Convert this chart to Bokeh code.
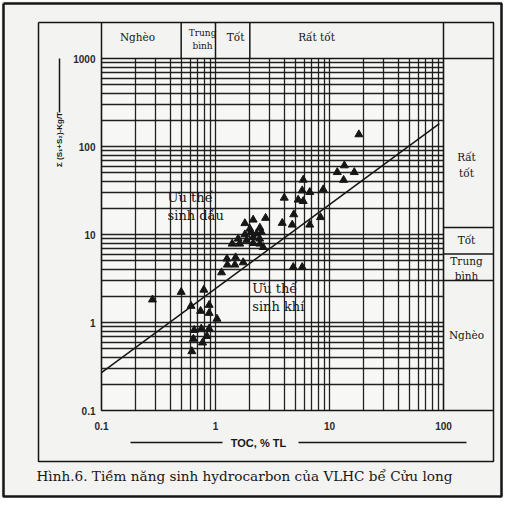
import math
from bokeh.plotting import figure
from bokeh.models import FixedTicker, CustomJSTickFormatter
from bokeh.core.properties import value
from bokeh.embed import file_html
from bokeh.resources import INLINE

# ---------------- data ----------------
toc = [0.28, 0.50, 0.79, 0.61, 0.74, 0.88, 0.88, 1.03, 0.65, 0.75, 0.88, 0.64, 0.84, 0.77, 0.62,
       1.13, 1.27, 1.48, 1.75, 1.50, 1.26, 1.40, 1.63, 1.87, 2.14, 2.45, 2.62, 1.58, 1.81, 2.04,
       2.29, 2.53, 2.14, 1.81, 2.14, 2.75, 2.00, 2.45, 2.44,
       3.85, 4.71, 4.86, 6.71, 8.34, 4.01, 5.31, 5.88, 5.76, 6.71, 5.88, 8.81, 4.81, 5.76,
       13.5, 11.7, 16.5, 13.3, 18.1]
s1s2 = [1.82, 2.22, 2.35, 1.54, 1.35, 1.58, 1.28, 1.10, 0.82, 0.85, 0.85, 0.65, 0.70, 0.59, 0.47,
        3.70, 4.53, 4.53, 4.81, 5.48, 5.30, 7.84, 7.84, 8.55, 7.96, 7.84, 7.17, 8.94, 10.0, 10.6,
        10.2, 10.6, 9.31, 13.4, 14.7, 15.4, 11.6, 11.9, 8.94,
        13.5, 12.9, 16.9, 12.9, 15.7, 26.1, 24.8, 23.9, 31.6, 30.3, 41.8, 32.5, 4.25, 4.25,
        60.8, 51.0, 51.0, 41.6, 137]
line_toc = [0.1, 92]
line_s = [0.27, 182]

x_ticks = [0.1, 1, 10, 100]
x_ticklabels = ["0.1", "1", "10", "100"]
y_ticks = [0.1, 1, 10, 100, 1000]
y_ticklabels = ["0.1", "1", "10", "100", "1000"]

toc_bounds = [0.1, 0.5, 1, 2, 100]
toc_classes = ["Nghèo", "Trung\nbình", "Tốt", "Rất tốt"]
toc_class_x = [0.207, 0.77, 1.50, 7.7]
s_bounds = [1000, 12, 6, 3, 0.1]
s_classes = ["Rất\ntốt", "Tốt", "Trung\nbình", "Nghèo"]
s_class_y = [62, 8.6, 4.1, 0.73]

zone_labels = ["Ưu thế\nsinh dầu", "Ưu thế\nsinh khí"]
zone_x = [0.38, 2.1]
zone_y = [21, 1.9]

x_title = "TOC, % TL"
y_title = "Σ (S₁+S₂)-Kg/T"
caption = "Hình.6. Tiềm năng sinh hydrocarbon của VLHC bể Cửu long"

# ---------------- layout ----------------
W, H = 503, 498
FL, FT = 101, 58
XDEC, YDEC = 114, 88
FW, FH = 3 * XDEC, 4 * YDEC

def cx(px):
    return 10 ** (-1 + (px - FL) / XDEC)

def cy(py):
    return 10 ** (3 - (py - FT) / YDEC)

INK = "#161616"
SERIF = value("DejaVu Serif")
SANS = value("Liberation Sans")

p = figure(width=W, height=H, x_axis_type="log", y_axis_type="log",
           x_range=(0.1, 100), y_range=(0.1, 1000),
           output_backend="svg", toolbar_location=None,
           min_border_left=FL, min_border_right=W - FL - FW,
           min_border_top=FT, min_border_bottom=H - FT - FH)
p.background_fill_color = "#f7f7f5"
p.border_fill_color = "#f3f3f1"
p.outline_line_color = INK
p.outline_line_width = 1.6

grid_x = [k * 10 ** e for e in (-1, 0, 1) for k in range(1, 10)] + [100]
grid_y = [k * 10 ** e for e in (-1, 0, 1, 2) for k in range(1, 10)] + [1000]
p.xgrid.ticker = FixedTicker(ticks=grid_x)
p.ygrid.ticker = FixedTicker(ticks=grid_y)
for g in (p.xgrid, p.ygrid):
    g.grid_line_color = INK
    g.grid_line_width = 1.3
    g.grid_line_alpha = 0.95

fmt_code = """
for (let i = 0; i < vals.length; i++) {
  if (Math.abs(Math.log10(tick) - Math.log10(vals[i])) < 1e-6) return labs[i];
}
return '';
"""
p.xaxis.ticker = FixedTicker(ticks=x_ticks)
p.xaxis.formatter = CustomJSTickFormatter(args=dict(vals=x_ticks, labs=x_ticklabels), code=fmt_code)
p.yaxis.ticker = FixedTicker(ticks=y_ticks)
p.yaxis.formatter = CustomJSTickFormatter(args=dict(vals=y_ticks, labs=y_ticklabels), code=fmt_code)
for ax in (p.xaxis, p.yaxis):
    ax.axis_line_color = None
    ax.major_tick_line_color = None
    ax.minor_tick_line_color = None
    ax.major_tick_in = 0
    ax.major_tick_out = 0
    ax.major_label_text_font = "Liberation Sans"
    ax.major_label_text_font_size = "10px"
    ax.major_label_text_font_style = "bold"
    ax.major_label_text_color = "#2a2a2a"
p.xaxis.major_label_standoff = 11
p.yaxis.major_label_standoff = 6

# ---------------- data marks ----------------
p.line(line_toc, line_s, line_color=INK, line_width=1.5)
p.scatter(toc, s1s2, marker="triangle", size=8, fill_color=INK, line_color=INK)

p.text(zone_x, zone_y, text=zone_labels, text_font=SERIF, text_font_size="13px",
       text_color=INK, text_align="left", text_baseline="middle", text_line_height=1.2)

# ---------------- frame decorations (outside the plot area) ----------------
def rect(l, t, r, b):
    return [cx(l), cx(r), cx(r), cx(l), cx(l)], [cy(t), cy(t), cy(b), cy(b), cy(t)]

xs, ys = [], []
a, c = rect(38, 22, 493, 461)
xs.append(a); ys.append(c)
for bnd in toc_bounds:
    xs.append([bnd, bnd]); ys.append([1000, cy(22)])
for bnd in s_bounds:
    xs.append([100, cx(493)]); ys.append([bnd, bnd])
# axis title rules
xs.append([cx(130), cx(222)]); ys.append([cy(442), cy(442)])
xs.append([cx(298), cx(466)]); ys.append([cy(442), cy(442)])
xs.append([cx(59), cx(59)]); ys.append([cy(112), cy(58)])
p.multi_line(xs, ys, line_color=INK, line_width=1.5, level="overlay")
ob, oc = rect(3, 3, 501, 496)
p.line(ob, oc, line_color=INK, line_width=2.5, level="overlay")
p.scatter([cx(469), cx(59)], [cy(442), cy(55)], marker="triangle", size=7,
          angle=[-math.pi / 2, 0], fill_color=INK, line_color=INK, level="overlay")

# header class labels
p.text([toc_class_x[0], toc_class_x[2], toc_class_x[3]], [cy(36)] * 3,
       text=[toc_classes[0], toc_classes[2], toc_classes[3]],
       text_font=SERIF, text_font_size="10.5px", text_color=INK, text_align="center",
       text_baseline="middle", level="overlay")
p.text([toc_class_x[1]], [cy(39)], text=[toc_classes[1]], text_font=SERIF, text_font_size="9px",
       text_color=INK, text_align="center", text_baseline="middle", text_line_height=1.25,
       level="overlay")
p.text([cx(466)] * 4, s_class_y, text=s_classes, text_font=SERIF, text_font_size="10.5px",
       text_color=INK, text_align="center", text_baseline="middle", text_line_height=1.3,
       level="overlay")

# axis titles and caption
p.text([cx(258)], [cy(442)], text=[x_title], text_font=SANS, text_font_size="11px",
       text_font_style="bold", text_color=INK, text_align="center", text_baseline="middle",
       level="overlay")
p.text([cx(59)], [cy(139)], text=[y_title], angle=math.pi / 2, text_font=SANS,
       text_font_size="8px", text_font_style="bold", text_color=INK, text_align="center",
       text_baseline="middle", level="overlay")
p.text([cx(36)], [cy(475)], text=[caption], text_font=SERIF, text_font_size="13.6px",
       text_color=INK, text_align="left", text_baseline="middle", level="overlay")

open("out.html", "w").write(file_html(p, INLINE))
